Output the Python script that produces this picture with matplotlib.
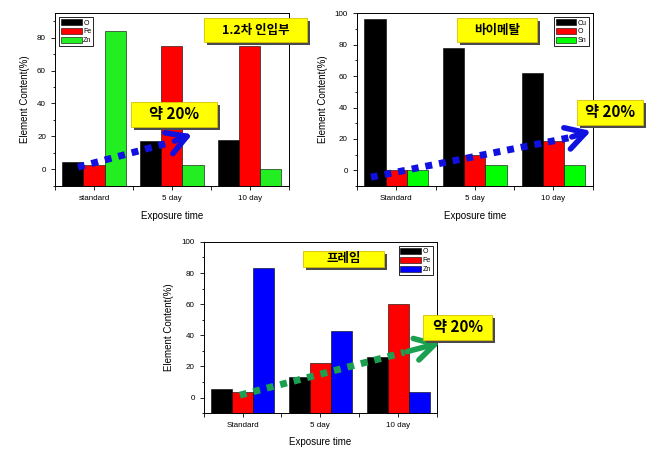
import matplotlib
matplotlib.use("Agg")
import matplotlib.pyplot as plt
import numpy as np
from matplotlib.patches import Rectangle
from matplotlib.ticker import MultipleLocator, FixedLocator

plt.rcParams['font.family'] = ['Liberation Sans', 'DejaVu Sans']

# dados
dias_a = ['standard', '5 day', '10 day']
dias_b = ['Standard', '5 day', '10 day']

inlet_labels = ['O', 'Fe', 'Zn']
inlet_O = [4.5, 17, 17.5]
inlet_Fe = [2.5, 75, 75]
inlet_Zn = [84, 2.5, 0]

bimetal_labels = ['Cu', 'O', 'Sn']
bimetal_Cu = [96.5, 78, 62]
bimetal_O = [0, 10, 19]
bimetal_Sn = [0, 3.5, 3.5]

frame_labels = ['O', 'Fe', 'Zn']
frame_O = [5.5, 13.5, 26]
frame_Fe = [3.5, 22.5, 60]
frame_Zn = [83, 43, 3.5]

KR = ['Noto Sans CJK KR', 'DejaVu Sans']


def barras(ax, series, labels, cores, xlabels, ylim, leg_loc):
    x = np.arange(len(xlabels))
    w = 0.27
    base = ylim[0]
    for i, (vals, lab, cor) in enumerate(zip(series, labels, cores)):
        # as barras comecam no fundo do eixo, como no Origin
        ax.bar(x + (i - 1) * w, np.array(vals) - base, w, bottom=base, color=cor,
               edgecolor='black', linewidth=0.4, label=lab)
    ax.set_xlim(-0.5, 2.5)
    ax.set_ylim(*ylim)
    ax.set_xticks(x)
    ax.set_xticklabels(xlabels)
    ax.xaxis.set_minor_locator(FixedLocator([-0.5, 0.5, 1.5, 2.5]))
    ax.yaxis.set_major_locator(FixedLocator([t for t in range(0, 101, 20) if t <= ylim[1]]))
    ax.yaxis.set_minor_locator(MultipleLocator(10))
    ax.tick_params(which='both', direction='out', labelsize=5.8, width=0.6)
    ax.tick_params(which='major', length=3)
    ax.tick_params(which='minor', length=1.8)
    ax.tick_params(axis='x', which='minor', length=3)
    for s in ax.spines.values():
        s.set_linewidth(0.7)
    ax.set_xlabel('Exposure time', fontsize=7, labelpad=6)
    ax.set_ylabel('Element Content(%)', fontsize=7, labelpad=5)
    leg = ax.legend(loc=leg_loc, fontsize=5, handlelength=3.0, handleheight=1.0,
                    labelspacing=0.2, handletextpad=0.2, borderpad=0.25,
                    borderaxespad=0.6, fancybox=False, framealpha=1)
    leg.get_frame().set_edgecolor('black')
    leg.get_frame().set_linewidth(0.6)


def caixa(ax, cx, cy, w, h, texto, size):
    fig = ax.figure
    bb = ax.get_position()
    dx = 3 / (fig.get_figwidth() * fig.dpi) / bb.width
    dy = 3 / (fig.get_figheight() * fig.dpi) / bb.height
    ax.add_patch(Rectangle((cx - w / 2 + dx, cy - h / 2 - dy), w, h, transform=ax.transAxes,
                           facecolor='#4a4a4a', edgecolor='none', clip_on=False, zorder=9))
    ax.add_patch(Rectangle((cx - w / 2, cy - h / 2), w, h, transform=ax.transAxes,
                           facecolor='#FFFF00', edgecolor='#D8C000', linewidth=0.6,
                           clip_on=False, zorder=10))
    ax.text(cx, cy, texto, transform=ax.transAxes, ha='center', va='center',
            fontsize=size, fontweight='bold', family=KR, zorder=11)


def seta(ax, p0, p1, ponta, cor):
    ax.plot([p0[0], p1[0]], [p0[1], p1[1]], transform=ax.transAxes, color=cor,
            linewidth=5, linestyle=(0, (1.0, 1.0)), solid_capstyle='butt',
            dash_capstyle='butt', clip_on=False, zorder=8)
    ax.annotate('', xy=ponta, xycoords='axes fraction', xytext=p1, textcoords='axes fraction',
                arrowprops=dict(arrowstyle='->,head_length=1.4,head_width=0.8',
                                color=cor, lw=4), zorder=8, annotation_clip=False)


fig = plt.figure(figsize=(6.55, 4.53), dpi=100)
ax1 = fig.add_axes([0.084, 0.589, 0.357, 0.382])
ax2 = fig.add_axes([0.545, 0.589, 0.360, 0.382])
ax3 = fig.add_axes([0.311, 0.088, 0.356, 0.378])

barras(ax1, [inlet_O, inlet_Fe, inlet_Zn], inlet_labels,
       ['black', '#FF0000', '#22EE22'], dias_a, (-10.4, 95), 'upper left')
barras(ax2, [bimetal_Cu, bimetal_O, bimetal_Sn], bimetal_labels,
       ['black', '#FF0000', '#00FF00'], dias_b, (-10, 100), 'upper right')
barras(ax3, [frame_O, frame_Fe, frame_Zn], frame_labels,
       ['black', '#FF0000', '#0000FF'], dias_b, (-10, 100), 'upper right')

seta(ax1, (0.098, 0.110), (0.50, 0.255), (0.598, 0.306), '#1010E0')
seta(ax2, (0.059, 0.052), (0.90, 0.28), (1.004, 0.324), '#1010E0')
seta(ax3, (0.155, 0.105), (0.86, 0.355), (1.026, 0.415), '#1AA050')

caixa(ax1, 0.859, 0.902, 0.44, 0.139, '1.2차 인입부', 9)
caixa(ax1, 0.509, 0.416, 0.367, 0.145, '약 20%', 11)
caixa(ax2, 0.593, 0.902, 0.339, 0.139, '바이메탈', 9)
caixa(ax2, 1.072, 0.428, 0.28, 0.145, '약 20%', 11)
caixa(ax3, 0.601, 0.901, 0.348, 0.094, '프레임', 9)
caixa(ax3, 1.09, 0.503, 0.296, 0.146, '약 20%', 11)

fig.savefig('out.png', dpi=100)
